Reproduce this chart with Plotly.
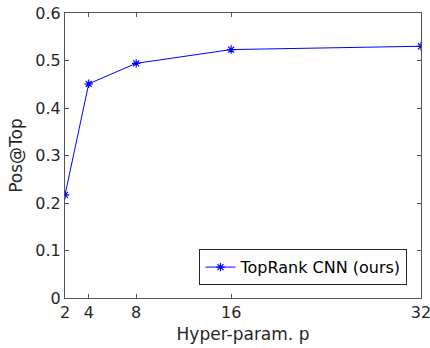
import plotly.graph_objects as go

# Hyper-parameter p vs. Pos@Top
p_values = [2, 4, 8, 16, 32]
pos_at_top = [0.217, 0.451, 0.494, 0.523, 0.530]
series_name = "TopRank CNN (ours)"
x_ticks = [2, 4, 8, 16, 32]
y_ticks = [0, 0.1, 0.2, 0.3, 0.4, 0.5, 0.6]

font_family = "DejaVu Sans, sans-serif"
text_color = "#262626"
axis_color = "#555555"

fig = go.Figure()
fig.add_trace(go.Scatter(
    x=p_values,
    y=pos_at_top,
    mode="lines+markers",
    name=series_name,
    line=dict(color="#0000ff", width=1),
    marker=dict(symbol="asterisk-open", size=7, color="#0000ff",
                line=dict(color="#0000ff", width=1.2)),
))

axis_common = dict(
    showgrid=False,
    zeroline=False,
    showline=True,
    linecolor=axis_color,
    linewidth=1,
    mirror="allticks",
    ticks="inside",
    ticklen=4,
    tickcolor=axis_color,
    tickfont=dict(family=font_family, size=16, color=text_color),
    ticklabeloverflow="allow",
    automargin=False,
)

fig.update_xaxes(
    range=[2, 32],
    tickvals=x_ticks,
    ticktext=[str(v) for v in x_ticks],
    title=dict(text="Hyper-param. p", font=dict(family=font_family, size=17, color=text_color),
               standoff=6),
    **axis_common,
)
fig.update_yaxes(
    range=[0, 0.6],
    tickvals=y_ticks,
    ticktext=["0" if v == 0 else f"{v:.1f}" for v in y_ticks],
    title=dict(text="Pos@Top", font=dict(family=font_family, size=17, color=text_color),
               standoff=8),
    **axis_common,
)

fig.update_layout(
    width=430,
    height=348,
    margin=dict(l=65, r=9, t=13, b=50),
    paper_bgcolor="white",
    plot_bgcolor="white",
    font=dict(family=font_family, color=text_color),
    legend=dict(
        x=0.962, y=0.045, xanchor="right", yanchor="bottom",
        bgcolor="white",
        bordercolor="#262626",
        borderwidth=1,
        font=dict(family=font_family, size=16, color="#000000"),
        itemwidth=30,
        tracegroupgap=0,
    ),
    showlegend=True,
)

fig.write_html("out.html")
